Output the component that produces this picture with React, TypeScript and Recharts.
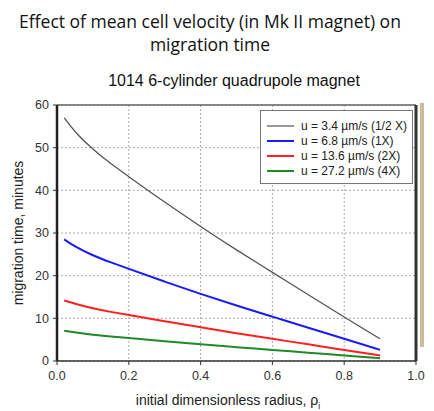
import { LineChart, Line, XAxis, YAxis, CartesianGrid, ReferenceLine } from 'recharts';

const radius = [0.02, 0.05, 0.1, 0.15, 0.2, 0.3, 0.4, 0.5, 0.6, 0.7, 0.8, 0.9];
const halfX = [57, 53.6, 49.6, 46.2, 43.2, 37.2, 31.5, 26, 20.8, 15.5, 10.3, 5.2];
const oneX = [28.5, 26.8, 24.7, 23.1, 21.6, 18.6, 15.7, 13, 10.4, 7.8, 5.2, 2.6];
const twoX = [14.2, 13.4, 12.3, 11.5, 10.8, 9.3, 7.9, 6.5, 5.2, 3.9, 2.6, 1.3];
const fourX = [7.1, 6.7, 6.1, 5.75, 5.4, 4.65, 3.9, 3.25, 2.6, 1.95, 1.3, 0.65];

const xTicks = [0, 0.2, 0.4, 0.6, 0.8, 1.0];
const yTicks = [0, 10, 20, 30, 40, 50, 60];

const series = [
  { key: 'half', name: 'u = 3.4 \u00b5m/s (1/2 X)', color: '#555555' },
  { key: 'one', name: 'u = 6.8 \u00b5m/s (1X)', color: '#1a1aff' },
  { key: 'two', name: 'u = 13.6 \u00b5m/s (2X)', color: '#ff2020' },
  { key: 'four', name: 'u = 27.2 \u00b5m/s (4X)', color: '#1e8a2a' },
];

const data = radius.map((r, i) => ({
  r,
  half: halfX[i],
  one: oneX[i],
  two: twoX[i],
  four: fourX[i],
}));

const tickStyle = { fill: '#333', fontSize: 12.5, fontFamily: 'Liberation Sans, Arial, sans-serif' };

function LegendBox() {
  return (
    <div
      style={{
        position: 'absolute',
        left: 260,
        top: 110,
        border: '1px solid #777',
        background: '#fff',
        width: 153,
        height: 74,
        boxSizing: 'border-box',
        padding: '7px 0 0 6px',
        fontFamily: 'Liberation Sans, Arial, sans-serif',
        fontSize: 12,
        color: '#222',
        whiteSpace: 'nowrap',
      }}
    >
      {series.map((s) => (
        <div key={s.key} style={{ display: 'flex', alignItems: 'center', height: 15 }}>
          <span style={{ display: 'inline-block', width: 27, height: 0, borderTop: `2px solid ${s.key === 'half' ? '#999' : s.color}`, marginRight: 7 }} />
          <span>{s.name}</span>
        </div>
      ))}
    </div>
  );
}

export default function App() {
  return (
    <div style={{ position: 'absolute', left: 0, top: 0, width: 434, height: 411, background: '#fff', overflow: 'hidden' }}>
      <div
        style={{
          position: 'absolute',
          top: 10,
          left: 0,
          width: 420,
          textAlign: 'center',
          fontFamily: 'Open Sans, sans-serif',
          fontSize: 17.5,
          lineHeight: '23px',
          color: '#111',
        }}
      >
        Effect of mean cell velocity (in Mk II magnet) on
        <br />
        migration time
      </div>
      <div
        style={{
          position: 'absolute',
          top: 72,
          left: 0,
          width: 468,
          textAlign: 'center',
          fontFamily: 'Liberation Sans, Arial, sans-serif',
          fontSize: 16,
          color: '#111',
        }}
      >
        1014 6-cylinder quadrupole magnet
      </div>
      <LineChart width={434} height={411} data={data} margin={{ top: 105, right: 18, bottom: 20, left: 12 }}>
        <CartesianGrid stroke="#aaa" strokeDasharray="2 2" />
        <XAxis
          type="number"
          dataKey="r"
          domain={[0, 1]}
          ticks={xTicks}
          tickFormatter={(v: number) => v.toFixed(1)}
          height={30}
          tick={tickStyle}
          tickSize={4}
          tickMargin={6}
          axisLine={{ stroke: '#333', strokeWidth: 1.5 }}
          tickLine={{ stroke: '#333' }}
        />
        <YAxis
          type="number"
          domain={[0, 60]}
          ticks={yTicks}
          width={45}
          tick={tickStyle}
          tickSize={4}
          tickMargin={4}
          axisLine={{ stroke: '#222', strokeWidth: 2.5 }}
          tickLine={{ stroke: '#333' }}
        />
        <ReferenceLine y={60} stroke="#666" strokeWidth={1.5} />
        <ReferenceLine x={1} stroke="#333" strokeWidth={3} />
        {series.map((s) => (
          <Line
            key={s.key}
            type="basis"
            dataKey={s.key}
            name={s.name}
            stroke={s.color}
            strokeWidth={s.key === 'half' ? 1.3 : 2}
            dot={false}
            isAnimationActive={false}
          />
        ))}
      </LineChart>
      <LegendBox />
      <div
        style={{
          position: 'absolute',
          left: 18,
          top: 233,
          transform: 'translate(-50%, -50%) rotate(-90deg)',
          whiteSpace: 'nowrap',
          fontFamily: 'Liberation Sans, Arial, sans-serif',
          fontSize: 14,
          color: '#222',
        }}
      >
        migration time, minutes
      </div>
      <div
        style={{
          position: 'absolute',
          left: 0,
          top: 392,
          width: 456,
          textAlign: 'center',
          fontFamily: 'Liberation Sans, Arial, sans-serif',
          fontSize: 14,
          color: '#222',
        }}
      >
        initial dimensionless radius, {'\u03c1'}
        <sub style={{ fontSize: 9 }}>i</sub>
      </div>
      <div style={{ position: 'absolute', left: 420, top: 103, width: 4, height: 244, background: '#cbbd9c' }} />
    </div>
  );
}
